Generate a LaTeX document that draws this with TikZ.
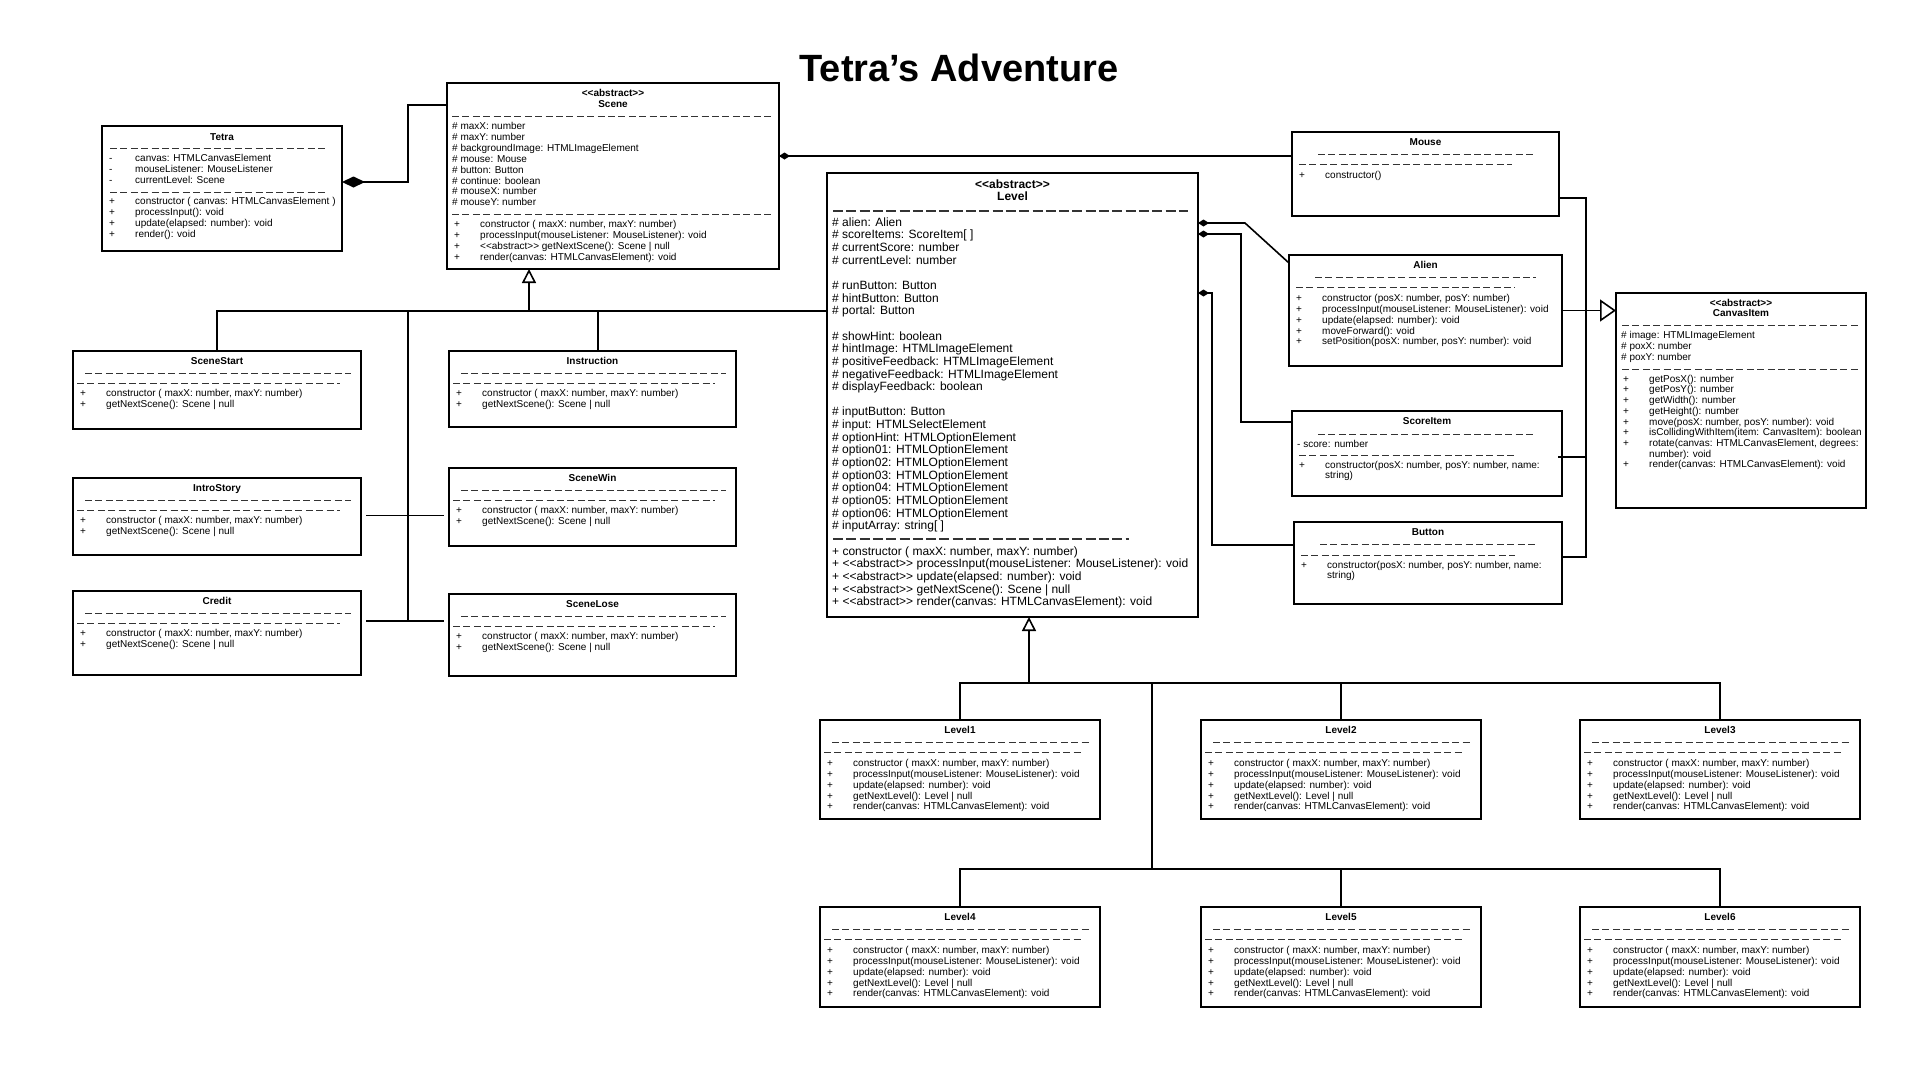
\documentclass[tikz,border=0pt]{standalone}
\usepackage{fontspec}
\setmainfont{Liberation Sans}
\usetikzlibrary{arrows.meta, positioning, calc}

% stereotype text (the kerns keep << >> from becoming guillemets)
\newcommand\abst{<\kern0pt<abstract>\kern0pt>}

\tikzset{
  cls/.style={draw=black, line width=1.8pt, fill=white, inner sep=0pt, outer sep=0pt},
  ctitle/.style={font=\fontsize{10}{12}\selectfont\bfseries, inner sep=0pt,
                 text height=7.2pt, text depth=1.8pt},
  bigtitle/.style={font=\fontsize{12}{14}\selectfont\bfseries, inner sep=0pt,
                 text height=8.6pt, text depth=2.2pt},
  attrow/.style={font=\fontsize{10}{12}\selectfont, anchor=west, inner sep=0pt,
                 text height=7.2pt, text depth=1.8pt},
  bigrow/.style={font=\fontsize{12}{14}\selectfont, anchor=west, inner sep=0pt,
                 text height=8.6pt, text depth=2.2pt},
  dashsep/.style={draw=black!80, line width=0.9pt, dash pattern=on 7pt off 3.4pt},
  dashbig/.style={draw=black!80, line width=1.1pt, dash pattern=on 10pt off 3.3pt},
  link/.style={draw=black, line width=1.6pt},
  gen/.style={link, -{Triangle[open, length=14pt, width=14pt, fill=white]}},
  genbig/.style={link, -{Triangle[open, length=16pt, width=22pt, fill=white]}},
  comp/.style={link, {Diamond[length=11pt, width=7pt]}-},
  compbig/.style={link, {Diamond[length=23pt, width=11pt]}-},
}

% frame of one class: name, x1, y1, x2, y2
\newcommand\classframe[5]{%
  \node[cls, minimum width={#4-#2}, minimum height={#5-#3}] (#1)
    at ({(#2+#4)/2}, {(#3+#5)/2}) {};}
% dashed rule inside a class: name, y offset, left inset, right inset
\newcommand\sepline[4]{%
  \draw[dashsep] ($(#1.north west)+(#3,#2)$) -- ($(#1.north east)+(-#4,#2)$);}
% "+" operations: name, first y offset, step, list
\newcommand\oprows[4]{%
  \foreach \txt [count=\k from 0] in #4 {
    \node[attrow] (#1-p\k) at ($(#1.north west)+(7,{#2+\k*#3})$) {+};
    \node[attrow] (#1-m\k) at ($(#1.north west)+(33,{#2+\k*#3})$) {\txt};
  }}

\def\tetralist{{constructor ( canvas: HTMLCanvasElement )}, {processInput(): void},
  {update(elapsed: number): void}, {render(): void}}
\def\scenemethods{{constructor ( maxX: number, maxY: number)},
  {processInput(mouseListener: MouseListener): void},
  {\abst{} getNextScene(): Scene | null}, {render(canvas: HTMLCanvasElement): void}}
\def\scenelist{{constructor ( maxX: number, maxY: number)}, {getNextScene(): Scene | null}}
\def\levellist{{constructor ( maxX: number, maxY: number)},
  {processInput(mouseListener: MouseListener): void}, {update(elapsed: number): void},
  {getNextLevel(): Level | null}, {render(canvas: HTMLCanvasElement): void}}
\def\alienlist{{constructor (posX: number, posY: number)},
  {processInput(mouseListener: MouseListener): void}, {update(elapsed: number): void},
  {moveForward(): void}, {setPosition(posX: number, posY: number): void}}
\def\mouselist{{constructor()}}
\def\itemlist{{constructor(posX: number, posY: number, name:}}
\def\canvaslist{{getPosX(): number}, {getPosY(): number}, {getWidth(): number},
  {getHeight(): number}, {move(posX: number, posY: number): void},
  {isCollidingWithItem(item: CanvasItem): boolean},
  {rotate(canvas: HTMLCanvasElement, degrees:}}

\begin{document}
\begin{tikzpicture}[x=1pt, y=-1pt]

\fill[white] (0,0) rectangle (1920,1080);
\useasboundingbox (0,0) rectangle (1920,1080);

% Title
\node[font=\fontsize{38}{44}\selectfont\bfseries, anchor=base] (title) at (959,81)
  {Tetra’s Adventure};

% ============================================================
% Tetra and Scene
% ============================================================
\classframe{Tetra}{102}{126}{342}{251}
\node[ctitle] (Tetra-t) at ($(Tetra.north)+(0,12)$) {Tetra};
\sepline{Tetra}{22}{8}{17}
\foreach \txt [count=\k from 0] in {{canvas: HTMLCanvasElement},
    {mouseListener: MouseListener}, {currentLevel: Scene}}{
  \node[attrow] (Tetra-d\k) at ($(Tetra.north west)+(7,{33+\k*11})$) {-};
  \node[attrow] (Tetra-a\k) at ($(Tetra.north west)+(33,{33+\k*11})$) {\txt};
}
\sepline{Tetra}{66}{8}{17}
\oprows{Tetra}{76}{11}{\tetralist}

\classframe{Scene}{447}{83}{779}{269}
\node[ctitle] (Scene-s) at ($(Scene.north)+(0,11)$) {\abst};
\node[ctitle] (Scene-t) at ($(Scene.north)+(0,22)$) {Scene};
\sepline{Scene}{33}{5}{8}
\foreach \txt [count=\k from 0] in {{\# maxX: number}, {\# maxY: number},
    {\# backgroundImage: HTMLImageElement}, {\# mouse: Mouse}, {\# button: Button},
    {\# continue: boolean}, {\# mouseX: number}, {\# mouseY: number}}
  \node[attrow] (Scene-a\k) at ($(Scene.north west)+(5,{44+\k*10.86})$) {\txt};
\sepline{Scene}{131}{5}{8}
\oprows{Scene}{142}{10.8}{\scenemethods}

% Scene subclasses
\foreach \cname/\xa/\ya/\xb/\yb in {SceneStart/73/351/361/429, Instruction/449/351/736/427,
    IntroStory/73/478/361/555, SceneWin/449/468/736/546,
    Credit/73/591/361/675, SceneLose/449/594/736/676}{
  \classframe{\cname}{\xa}{\ya}{\xb}{\yb}
  \node[ctitle] (\cname-t) at ($(\cname.north)+(0,11)$) {\cname};
  \sepline{\cname}{22}{12}{10}
  \sepline{\cname}{32}{4}{21}
  \oprows{\cname}{43}{10.8}{\scenelist}
}

% ============================================================
% Level and the canvas items
% ============================================================
\classframe{Level}{827}{173}{1198}{617}
\node[bigtitle] (Level-s) at ($(Level.north)+(0,12)$) {\abst};
\node[bigtitle] (Level-t) at ($(Level.north)+(0,24)$) {Level};
\draw[dashbig] ($(Level.north west)+(6,38)$) -- ($(Level.north east)+(-10,38)$);
\foreach \k/\txt in {0/{\# alien: Alien}, 1/{\# scoreItems: ScoreItem[ ]},
    2/{\# currentScore: number}, 3/{\# currentLevel: number},
    5/{\# runButton: Button}, 6/{\# hintButton: Button}, 7/{\# portal: Button},
    9/{\# showHint: boolean}, 10/{\# hintImage: HTMLImageElement},
    11/{\# positiveFeedback: HTMLImageElement}, 12/{\# negativeFeedback: HTMLImageElement},
    13/{\# displayFeedback: boolean}, 15/{\# inputButton: Button},
    16/{\# input: HTMLSelectElement}, 17/{\# optionHint: HTMLOptionElement},
    24/{\# inputArray: string[ ]},
    26/{+ constructor ( maxX: number, maxY: number)},
    27/{+ \abst{} processInput(mouseListener: MouseListener): void},
    28/{+ \abst{} update(elapsed: number): void},
    29/{+ \abst{} getNextScene(): Scene | null},
    30/{+ \abst{} render(canvas: HTMLCanvasElement): void}}
  \node[bigrow] (Level-r\k) at ($(Level.north west)+(5,{50+\k*12.65})$) {\txt};
\foreach \o in {1,...,6}
  \node[bigrow] (Level-o\o) at ($(Level.north west)+(5,{50+(17+\o)*12.65})$)
    {\# option0\o: HTMLOptionElement};
\draw[dashbig] ($(Level.north west)+(6,366)$) -- ($(Level.north east)+(-69,366)$);

\classframe{Mouse}{1292}{132}{1559}{216}
\node[ctitle] (Mouse-t) at ($(Mouse.north)+(0,11)$) {Mouse};
\sepline{Mouse}{22}{26}{26}
\sepline{Mouse}{32}{7}{47}
\oprows{Mouse}{44}{10.8}{\mouselist}

\classframe{Alien}{1289}{255}{1562}{366}
\node[ctitle] (Alien-t) at ($(Alien.north)+(0,11)$) {Alien};
\sepline{Alien}{22}{26}{26}
\sepline{Alien}{32}{7}{47}
\oprows{Alien}{44}{10.8}{\alienlist}

\classframe{ScoreItem}{1292}{411}{1562}{496}
\node[ctitle] (ScoreItem-t) at ($(ScoreItem.north)+(0,11)$) {ScoreItem};
\sepline{ScoreItem}{23}{26}{26}
\node[attrow] (ScoreItem-a0) at ($(ScoreItem.north west)+(5,34)$) {- score: number};
\sepline{ScoreItem}{44}{7}{47}
\oprows{ScoreItem}{55}{10.8}{\itemlist}
\node[attrow] (ScoreItem-m1) at ($(ScoreItem.north west)+(33,65)$) {string)};

\classframe{Button}{1294}{522}{1562}{604}
\node[ctitle] (Button-t) at ($(Button.north)+(0,11)$) {Button};
\sepline{Button}{22}{26}{26}
\sepline{Button}{33}{7}{47}
\oprows{Button}{44}{10.8}{\itemlist}
\node[attrow] (Button-m1) at ($(Button.north west)+(33,54)$) {string)};

\classframe{CanvasItem}{1616}{293}{1866}{508}
\node[ctitle] (CanvasItem-s) at ($(CanvasItem.north)+(0,11)$) {\abst};
\node[ctitle] (CanvasItem-t) at ($(CanvasItem.north)+(0,21)$) {CanvasItem};
\sepline{CanvasItem}{32}{6}{6}
\foreach \txt [count=\k from 0] in {{\# image: HTMLImageElement}, {\# poxX: number},
    {\# poxY: number}}
  \node[attrow] (CanvasItem-a\k) at ($(CanvasItem.north west)+(5,{43+\k*10.8})$) {\txt};
\sepline{CanvasItem}{76}{6}{6}
\oprows{CanvasItem}{86.5}{10.7}{\canvaslist}
\node[attrow] (CanvasItem-m7) at ($(CanvasItem.north west)+(33,{86.5+7*10.7})$)
  {number): void};
\node[attrow] (CanvasItem-p8) at ($(CanvasItem.north west)+(7,{86.5+8*10.7})$) {+};
\node[attrow] (CanvasItem-m8) at ($(CanvasItem.north west)+(33,{86.5+8*10.7})$)
  {render(canvas: HTMLCanvasElement): void};

% Level subclasses
\foreach \cname/\xa/\ya/\xb/\yb in {Level1/820/720/1100/819, Level2/1201/720/1481/819,
    Level3/1580/720/1860/819, Level4/820/907/1100/1007,
    Level5/1201/907/1481/1007, Level6/1580/907/1860/1007}{
  \classframe{\cname}{\xa}{\ya}{\xb}{\yb}
  \node[ctitle] (\cname-t) at ($(\cname.north)+(0,11)$) {\cname};
  \sepline{\cname}{22}{12}{11}
  \sepline{\cname}{32}{4}{19}
  \oprows{\cname}{44}{10.8}{\levellist}
}

% ============================================================
% Connectors
% ============================================================
\coordinate (tetraKnee) at (408,105);
\coordinate (sceneHub)  at (529,311);
\coordinate (sceneTrunk) at (408,311);
\coordinate (sceneEnd)  at (408,621);
\coordinate (instrDrop) at (598,311);
\coordinate (levelHub)  at (1029,683);
\coordinate (levelTrunk) at (1152,683);
\coordinate (levelBus)  at (1152,869);
\coordinate (itemBot)   at (1586,557);
\coordinate (itemMid)   at (1586,457);

% compositions
\draw[compbig] ($(Tetra.north east)+(0,56)$) -| (tetraKnee) -- (tetraKnee -| Scene.west);
\draw[comp] ($(Scene.north east)+(0,73)$) -- ($(Mouse.north west)+(0,24)$);
\draw[comp] ($(Level.north east)+(0,50)$) -- ++(47,0) -- ($(Alien.north west)+(0,8)$);
\draw[comp] ($(Level.north east)+(0,61)$) -| ($(ScoreItem.north west)+(-51,11)$)
  -- ($(ScoreItem.north west)+(0,11)$);
\draw[comp] ($(Level.north east)+(0,120)$) -| ($(Button.north west)+(-82,23)$)
  -- ($(Button.north west)+(0,23)$);

% Scene generalisation
\draw[gen] (sceneHub) -- (sceneHub |- Scene.south);
\draw[link] (SceneStart.north) |- (Level.west |- sceneHub);
\draw[link] (instrDrop |- Instruction.north) -- (instrDrop);
\draw[link] (sceneTrunk) -- (sceneEnd);
\draw[link] ($(IntroStory.east)+(5,-1)$) -- ($(SceneWin.west |- IntroStory.east)+(-5,-1)$);
\draw[link] ($(Credit.east |- sceneEnd)+(5,0)$) -- ($(SceneLose.west |- sceneEnd)+(-5,0)$);

% Level generalisation
\draw[gen] (levelHub) -- (levelHub |- Level.south);
\draw[link] (Level1.north) |- (levelHub) -| (Level3.north);
\draw[link] (Level2.north) -- (Level2.north |- levelHub);
\draw[link] (levelTrunk) -- (levelBus);
\draw[link] (Level4.north) |- (levelBus) -| (Level6.north);
\draw[link] (Level5.north) -- (Level5.north |- levelBus);

% CanvasItem generalisation
\draw[genbig] (Alien.east) -- (Alien.east -| CanvasItem.west);
\draw[link] ($(Mouse.north east)+(0,66)$) -| (itemBot) -- (Button.east |- itemBot);
\draw[link] ($(ScoreItem.north east)+(-4,46)$) -- (itemMid);

\end{tikzpicture}
\end{document}
